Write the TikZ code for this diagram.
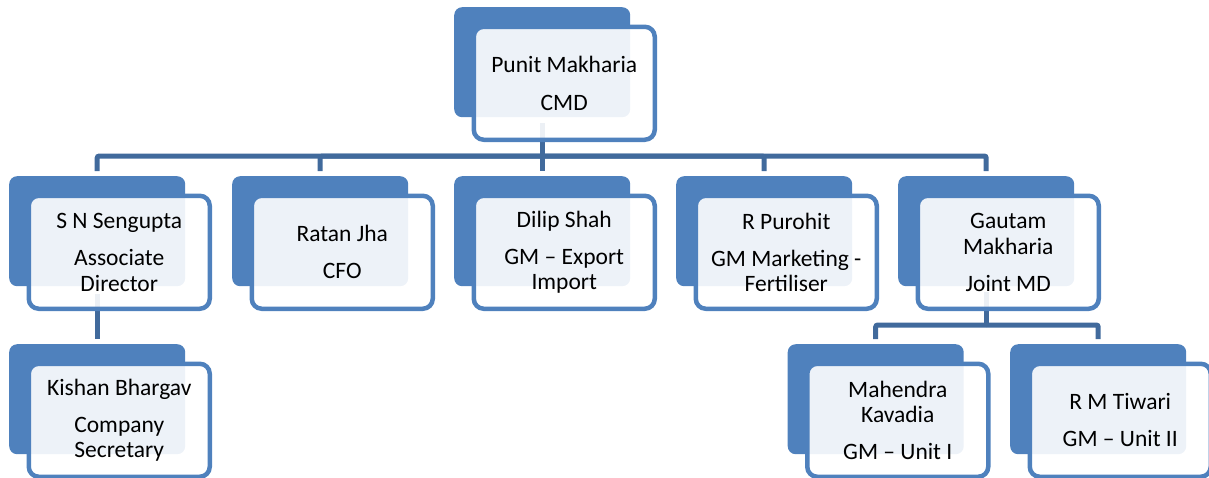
\documentclass[tikz,border=0pt]{standalone}
\usepackage{fontspec}
\setmainfont{Carlito}
\usetikzlibrary{backgrounds,calc}
\definecolor{accentblue}{RGB}{79,129,189}
\definecolor{connblue}{RGB}{65,106,156}
\begin{document}
\begin{tikzpicture}[x=1pt,y=-1pt,
  backbox/.style={draw=none,fill=accentblue,rounded corners=8pt,minimum width=176pt,minimum height=110pt,inner sep=0pt,anchor=north west},
  frontbox/.style={draw=accentblue,line width=4.5pt,fill=white,fill opacity=0.9,text opacity=1,rounded corners=10pt,minimum width=181pt,minimum height=113pt,inner sep=0pt,align=center,font=\fontsize{23.5}{25.5}\selectfont,anchor=north west},
  conn/.style={draw=connblue,line width=5pt}]
\useasboundingbox (0,0) rectangle (1209,477);
\node[backbox] (b0) at (454,7) {};
\node[frontbox] (f0) at (471.5,24.5) {Punit Makharia\\[12.5pt]CMD};

\node[backbox] (b1) at (9,176) {};
\node[frontbox] (f1) at (26.5,193.5) {S N Sengupta\\[11.5pt]Associate\\Director};

\node[backbox] (b2) at (232,176) {};
\node[frontbox] (f2) at (249.5,193.5) {Ratan Jha\\[11.5pt]CFO};

\node[backbox] (b3) at (454,176) {};
\node[frontbox] (f3) at (471.5,193.5) {Dilip Shah\\[11.5pt]GM -- Export\\Import};

\node[backbox] (b4) at (676,176) {};
\node[frontbox] (f4) at (693.5,193.5) {R Purohit\\[11.5pt]GM Marketing -\\Fertiliser};

\node[backbox] (b5) at (898,176) {};
\node[frontbox] (f5) at (915.5,193.5) {Gautam\\Makharia\\[11.5pt]Joint MD};

\node[backbox] (b6) at (9,344) {};
\node[frontbox] (f6) at (26.5,361.5) {Kishan Bhargav\\[11.5pt]Company\\Secretary};

\node[backbox] (b7) at (787.5,344) {};
\node[frontbox] (f7) at (805,361.5) {Mahendra\\Kavadia\\[11.5pt]GM -- Unit I};

\node[backbox] (b8) at (1010,344) {};
\node[frontbox] (f8) at (1027.5,361.5) {R M Tiwari\\[11.5pt]GM -- Unit II};

\coordinate (bus1) at (542,156);
\coordinate (bus2) at (876,325);
\begin{scope}[on background layer]
  \draw[conn] ([yshift=-6pt]b0.south) -- (b0.south |- bus1);
  \foreach \c in {b1,b2,b3,b4,b5}
    \draw[conn,rounded corners=2pt] (b0.south |- bus1) -| ([yshift=5pt]\c.north);
  \draw[conn] ([yshift=-8pt]b1.south) -- ([yshift=5pt]b6.north);
  \draw[conn] ([yshift=-6pt]b5.south) -- (b5.south |- bus2);
  \foreach \c in {b7,b8}
    \draw[conn,rounded corners=2pt] (b5.south |- bus2) -| ([yshift=5pt]\c.north);
\end{scope}
\end{tikzpicture}
\end{document}
